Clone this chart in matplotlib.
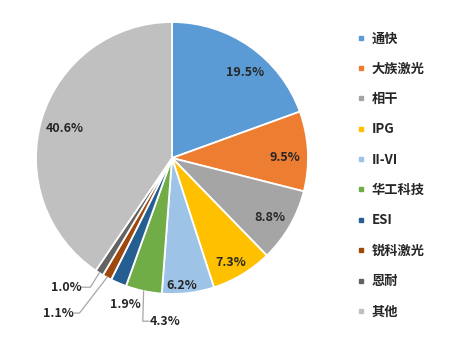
import numpy as np
import matplotlib
matplotlib.use("Agg")
import matplotlib.pyplot as plt
from matplotlib.lines import Line2D

plt.rcParams['font.family'] = ['Noto Sans CJK SC', 'DejaVu Sans']

categories = ['通快', '大族激光', '相干', 'IPG', 'II-VI', '华工科技', 'ESI', '锐科激光', '恩耐', '其他']
values = [19.5, 9.5, 8.8, 7.3, 6.2, 4.3, 1.9, 1.1, 1.0, 40.6]
colors = ['#5B9BD5', '#ED7D31', '#A5A5A5', '#FFC000', '#9DC3E6',
          '#70AD47', '#255E91', '#9E480E', '#636363', '#C0C0C0']

# label layout (unit-radius coordinates), separate from data
label_pos = [(0.537, 0.625), (0.83, 0.007), (0.72, -0.44), (0.43, -0.765),
             (0.074, -0.934), (-0.16, -1.20), (-0.345, -1.08), (-0.72, -1.14),
             (-0.665, -0.95), (-0.787, 0.22)]
label_ha = ['center'] * 5 + ['left', 'center', 'right', 'right', 'center']
leader = {5: [(-0.215, -1.2), (-0.17, -1.2)],
          7: [(-0.68, -1.14), (-0.72, -1.14)],
          8: [(-0.6, -0.95), (-0.665, -0.95)]}

W, H = 458, 337
fig = plt.figure(figsize=(W / 100, H / 100), dpi=100)
cx, cy, R = 172, 158, 136
ax = fig.add_axes([(cx - R) / W, (H - cy - R) / H, 2 * R / W, 2 * R / H])

wedges, _ = ax.pie(values, colors=colors, startangle=90, counterclock=False,
                   wedgeprops=dict(edgecolor='white', linewidth=1.3))
ax.set_xlim(-1, 1)
ax.set_ylim(-1, 1)
ax.set_aspect('equal')

for i, (w, v) in enumerate(zip(wedges, values)):
    x, y = label_pos[i]
    ax.text(x, y, f'{v:.1f}%', ha=label_ha[i], va='center', fontsize=9,
            fontweight='bold', color='#262626', clip_on=False)
    if i in leader:
        ang = np.deg2rad((w.theta1 + w.theta2) / 2)
        px, py = np.cos(ang), np.sin(ang)
        xs = [px] + [p[0] for p in leader[i]]
        ys = [py] + [p[1] for p in leader[i]]
        ax.plot(xs, ys, color='#A6A6A6', lw=0.9, clip_on=False)

handles = [Line2D([0], [0], marker='s', linestyle='none', markersize=3.5,
                  markerfacecolor=c, markeredgecolor=c) for c in colors]
leg = fig.legend(handles, categories, loc='upper left',
                 bbox_to_anchor=(352 / W, 1 - 26 / H), frameon=False,
                 prop=dict(size=9.5, weight='bold'), labelspacing=1.24,
                 handlelength=0.6, handletextpad=0.5, borderaxespad=0)
for t in leg.get_texts():
    t.set_color('#262626')

fig.savefig('out.png', dpi=100)
